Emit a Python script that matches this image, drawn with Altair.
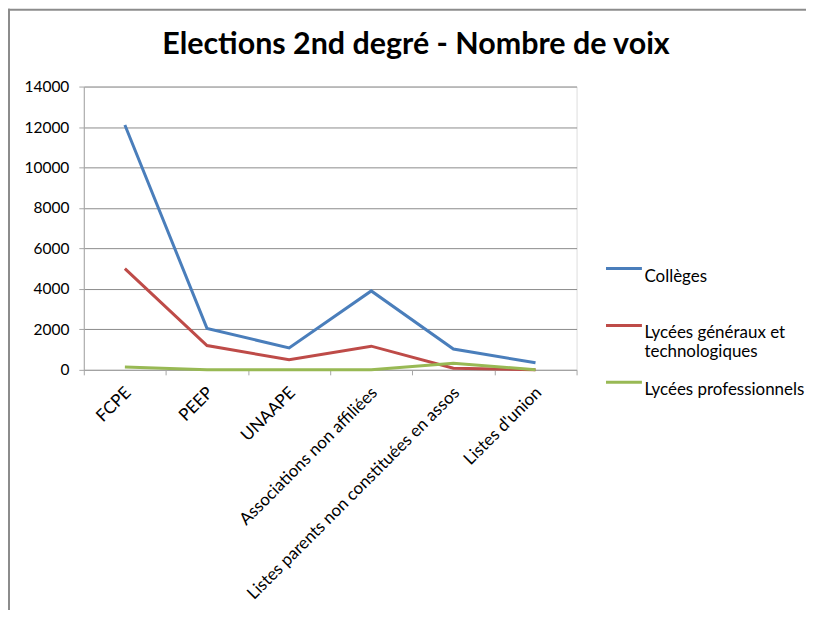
import altair as alt
import pandas as pd

title_text = "Elections 2nd degré - Nombre de voix"
categories = ["FCPE", "PEEP", "UNAAPE", "Associations non affiliées",
              "Listes parents non constituées en assos", "Listes d'union"]
series_names = ["Collèges", "Lycées généraux et technologiques", "Lycées professionnels"]
colleges = [12100, 2050, 1080, 3900, 1030, 350]
lycees_gt = [5000, 1200, 500, 1170, 80, 10]
lycees_pro = [140, 0, 0, 0, 330, 10]
colors = ["#4A7EBB", "#BE4B48", "#98B954"]
y_ticks = [0, 2000, 4000, 6000, 8000, 10000, 12000, 14000]

rows = []
for name, vals in zip(series_names, [colleges, lycees_gt, lycees_pro]):
    for c, v in zip(categories, vals):
        rows.append({"cat": c, "serie": name, "voix": v})
df = pd.DataFrame(rows)

FONT = "Lato"

label_expr = ("datum.label == 'Lycées généraux et technologiques' ? "
              "['Lycées généraux et', 'technologiques'] : [datum.label, '']")

lines = alt.Chart(df).mark_line(strokeWidth=3).encode(
    x=alt.X("cat:N", sort=categories, title=None,
            scale=alt.Scale(type="band", paddingInner=0, paddingOuter=0),
            axis=alt.Axis(labelAngle=-45, labelAlign="right", labelBaseline="middle",
                          labelPadding=15, labelOffset=3, tickBand="extent", tickSize=5,
                          domainColor="#A6A6A6", tickColor="#A6A6A6",
                          labelFont=FONT, labelFontSize=17, labelColor="#000000",
                          labelLimit=400, grid=False)),
    y=alt.Y("voix:Q", title=None,
            scale=alt.Scale(domain=[0, 14000], nice=False),
            axis=alt.Axis(values=y_ticks, format="d", tickSize=5, labelPadding=10,
                          domainColor="#A6A6A6", tickColor="#A6A6A6",
                          gridColor="#8C8C8C", gridWidth=1,
                          labelFont=FONT, labelFontSize=15.5, labelColor="#000000")),
    color=alt.Color("serie:N", sort=series_names,
                    scale=alt.Scale(domain=series_names, range=colors),
                    legend=alt.Legend(
                        title=None, orient="none", legendX=522, legendY=163,
                        symbolType="stroke", symbolSize=1296, symbolStrokeWidth=3,
                        labelFont=FONT, labelFontSize=17, labelColor="#000000",
                        labelBaseline="top", rowPadding=2, labelOffset=1,
                        labelLimit=300, labelExpr=label_expr)),
    order=alt.Order("serie:N"),
)

one = pd.DataFrame({"k": [0]})
title = alt.Chart(one).mark_text(
    text=title_text, font=FONT, fontSize=30.5, fontWeight="bold", color="#000000",
    align="center", baseline="alphabetic").encode(
    x=alt.value(333), y=alt.value(-33))
border_top = alt.Chart(one).mark_rule(color="#8C8C8C", strokeWidth=2).encode(
    x=alt.value(-76), x2=alt.value(730), y=alt.value(-77))
border_left = alt.Chart(one).mark_rule(color="#8C8C8C", strokeWidth=2).encode(
    x=alt.value(-75), y=alt.value(-78), y2=alt.value(540))

chart = alt.layer(border_top, border_left, title, lines).properties(
    width=494, height=284,
    autosize=alt.AutoSizeParams(type="none"),
    padding={"left": 76, "top": 78, "right": 230, "bottom": 240},
).configure_view(stroke=None).configure(background="white")

chart.save("out.html", embed_options={"renderer": "svg", "actions": False})
